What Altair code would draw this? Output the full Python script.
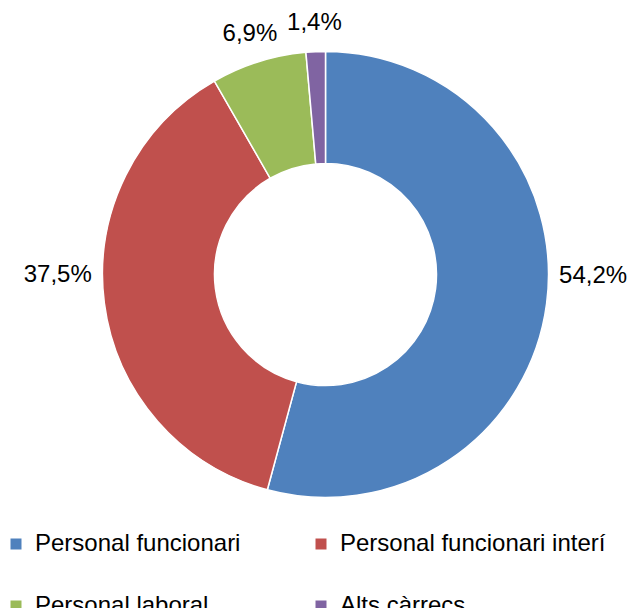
import altair as alt
import pandas as pd

categories = ["Personal funcionari", "Personal funcionari interí", "Personal laboral", "Alts càrrecs"]
values = [54.2, 37.5, 6.9, 1.4]
labels = ["54,2%", "37,5%", "6,9%", "1,4%"]
colors = ["#4F81BD", "#C0504D", "#9BBB59", "#8064A2"]

# legend is filled column by column; reference reads row by row
legend_order = [categories[0], categories[2], categories[1], categories[3]]
legend_colors = [colors[0], colors[2], colors[1], colors[3]]

df = pd.DataFrame({"cat": categories, "val": values, "label": labels, "ord": list(range(len(categories)))})

FONT = "Liberation Sans"
CX, CY = 317.5, 266.5

base = alt.Chart(df).encode(
    theta=alt.Theta("val:Q", stack=True),
    order=alt.Order("ord:Q"),
)

arcs = base.mark_arc(radius=223, radius2=111, stroke="white", strokeWidth=1.5).encode(
    x=alt.value(CX), y=alt.value(CY),
    color=alt.Color("cat:N", scale=alt.Scale(domain=legend_order, range=legend_colors),
                    legend=alt.Legend(title=None, orient="none", legendX=-4, legendY=524,
                                      columns=2, columnPadding=68, rowPadding=38,
                                      symbolType="square", symbolSize=121, symbolStrokeWidth=0,
                                      labelFont=FONT, labelFontSize=24, labelColor="#000000",
                                      labelOffset=7, labelLimit=400)),
)

text_big = base.mark_text(radius=270, dy=-34, font=FONT, fontSize=24, color="#000000").encode(
    x=alt.value(CX), y=alt.value(CY),
    text="label:N",
    opacity=alt.condition(alt.datum.val >= 20, alt.value(1), alt.value(0)),
)

text_small = base.mark_text(radius=252, font=FONT, fontSize=24, color="#000000").encode(
    x=alt.value(CX), y=alt.value(CY),
    text="label:N",
    opacity=alt.condition(alt.datum.val < 20, alt.value(1), alt.value(0)),
)

chart = (arcs + text_big + text_small).properties(
    width=619, height=600, autosize=alt.AutoSizeParams(type="none"), padding=0
).configure_view(stroke=None)

chart.save("out.html", embed_options={"renderer": "svg", "actions": False})
